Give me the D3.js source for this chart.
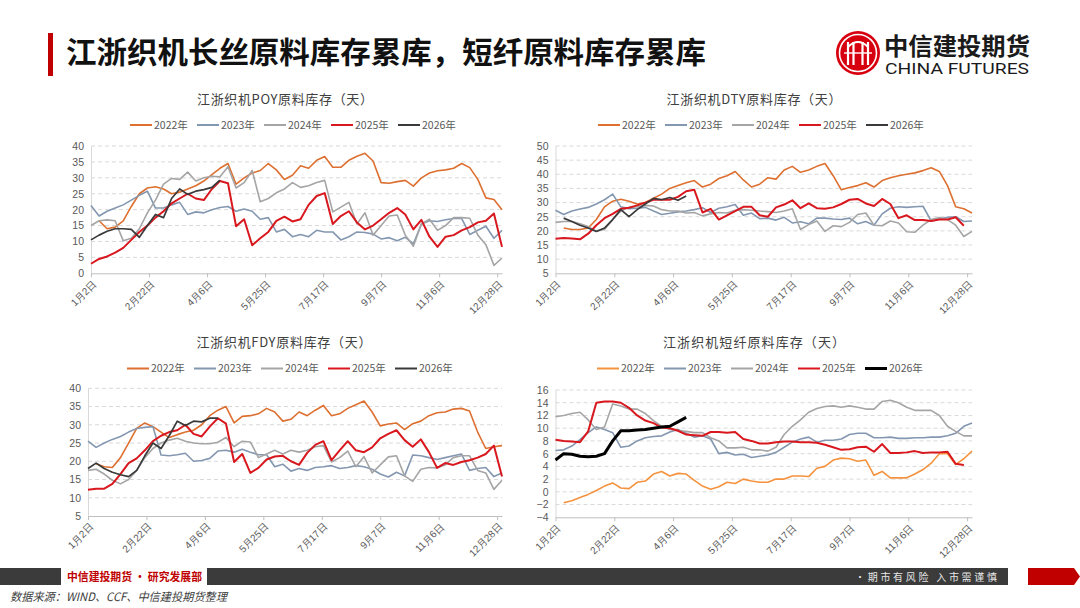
<!DOCTYPE html>
<html><head><meta charset="utf-8">
<script src="https://cdn.jsdelivr.net/npm/d3@7"></script>
<style>
html,body{margin:0;padding:0;background:#fff;}
svg{display:block;font-family:"Noto Sans CJK SC","Noto Sans",sans-serif;}
</style></head><body>
<svg id="c" width="1080" height="608"></svg>
<script>
// ---------- data ----------
const xLabels = ["1月2日","2月22日","4月6日","5月25日","7月17日","9月7日","11月6日","12月28日"];
const years = ["2022年","2023年","2024年","2025年","2026年"];
const chartTitles = ["江浙织机POY原料库存（天）","江浙织机DTY原料库存（天）","江浙织机FDY原料库存（天）","江浙织机短纤原料库存（天）"];
const mainTitle = "江浙织机长丝原料库存累库，短纤原料库存累库";

const poy2022 = [null,16.5,14,14.5,16.5,21,25,26.8,27.2,26.5,25,25.5,26.5,27.5,29,31,33,34.5,28,30,31.5,32.3,34.5,32.5,29.5,30.8,33.8,33,35.5,36.7,33.3,33.3,35.5,36.8,37.7,35.3,28.5,28.3,28.8,29.2,27.4,30,31.5,32.2,32.5,33,34.5,33.2,29.5,23.7,23.2,20];
const poy2023 = [21.3,18,19.5,20.5,21.5,23,24.5,25.8,20.5,20.5,21.5,22.3,18.5,19.3,19,20,20.7,21,19.5,20.2,19.5,17,17.5,13,13.8,11.5,12.2,11.5,13.5,13,13,10.5,11.5,13,12.8,12.3,10.8,11.2,10.2,11.3,9.3,15.5,16.5,16.3,16.8,17.2,17.2,12.2,13.5,14.8,11,13.5];
const poy2024 = [15,16.5,16.8,16.5,10.2,11,14,19,23,28,29.8,29.5,31.8,29,30,30.5,30.3,33.5,26.8,28.5,32.3,22.5,23.5,25.3,26.5,28.5,27,27.5,28.5,29.2,19.3,20.8,22.3,15.5,19,12,15,18,18.3,12,8.5,15.5,17,13.5,15,17.5,17.5,17.3,12,9,2.5,4.8];
const poy2025 = [3,4.5,5.3,6.5,8,10.5,13,15,17.5,19.5,22,23.5,25,23.5,23,26.5,29,28.3,14.8,17,8.8,11,13,16.5,17.8,16.3,17,21.5,24.3,25.2,15.5,18,19.5,16,13.8,15,17,19,20.5,18.5,13.8,16.8,11.5,8.3,11.5,12,13.5,14.5,16,16.5,18.8,8.3];
const poy2026 = [10.5,12,13.2,14,14,13.8,11.3,15,18.5,17.5,23.5,26.5,24.8,25.8,26.3,27,29.3];

const dty2022 = [null,21,20.5,20.5,21,24,28.5,30.5,31.2,30.5,29.5,30,31.5,33,35,36,37,37.8,35.5,36.5,38.5,39.5,41,38,35.5,36.5,38.8,38.3,41.5,42.8,40.7,41.5,42.8,43.8,39.5,34.5,35.3,36,37,35.5,37.8,38.8,39.5,40,40.5,41.3,42.3,41,36,28.5,27.8,26.3];
const dty2023 = [27.3,25.8,27,27.7,28.3,29.5,31,33,28.5,27.8,28,28.3,27,25.8,26.2,26.7,27,27.5,28.2,26.5,28,28.5,29.3,25.5,26.3,24.3,24.5,23.8,24.8,22.8,23.2,22.5,24.5,24.5,24.2,24,24.5,22.5,23.3,22,26,28,28.5,28.3,28.5,28.7,23.5,24.2,24.8,25,23.3,23.5];
const dty2024 = [23,23.3,23.3,22.5,21.5,20,20.5,24,27,28.3,28.5,29,28.8,27.5,27,27,26.3,26.5,25.3,26,26.5,26.3,27.3,27.5,27.3,27,26.8,26.5,27,27.8,20.5,22.2,23.5,19.8,21.8,21.5,23,25.8,26.3,22,21.8,23.5,22.8,19.7,19.5,22,24,24.7,24,22,18,19.8];
const dty2025 = [17.2,17.5,17.3,17,19,22,24.5,26,27.8,28.2,29,30,31,31,31,32,34,34.5,26.5,27.8,24,25.5,27,28.5,28.5,25.5,25,28.3,29.3,30.8,28,29.7,28,27.8,28.3,29.5,31,31.3,29.7,28.8,31.3,29.5,24.5,25.5,23.8,23.8,23.5,24,24,24.8,21.8];
const dty2026 = [null,24.5,23.3,22,21,19.8,21,24,27.5,25,27.5,29.5,31.5,31,31.8,30.8,32.3];

const fdy2022 = [null,19.3,18.5,18.3,21,25,29,30.5,29.5,28,26.5,27.3,28,28.5,30,32.5,34,35,30.5,32.3,32.5,33,34.5,33.5,31,31.5,33.5,32.5,34,35.3,32.5,33,34.5,35.5,36.5,33.5,29.7,30.2,30.5,28.7,30.3,31,32.5,33.3,33.5,34.3,34.5,33.8,28,23.5,24,24.3];
const fdy2023 = [25.5,23.8,25,26,26.8,28,29,29.3,29.5,21.7,21.5,21.8,22.2,20,20.2,20.8,22.8,23,22.5,23.3,22.5,21.8,21.8,18.5,19.2,17.3,18,17.5,18.3,18.5,18.8,18,18.3,18.8,18.5,17.8,16.5,15.7,17,16,21.7,21.5,21,20.5,21,21.5,22,17.5,18,18.3,15.8,16.8];
const fdy2024 = [17.5,17.8,16.5,14.8,13.8,15,17.5,21,23.5,25,25.8,26.3,25.5,25,24.8,24.8,25.2,26.5,24,25.5,25.3,21,22,23,22,23,22.5,23,24,24.3,19.8,21,22.8,18.5,21.3,16.8,19,21.2,21.5,16,14.5,17.8,18.3,18.2,19,21,21.5,21.5,17.5,16.8,12.3,14.8];
const fdy2025 = [12.2,12.5,12.5,13.8,16.5,19.5,20.8,23,25.5,27,28,28.5,30,27.5,26.8,29.5,31.8,30.3,19.8,22,16.8,18.2,20.5,21.3,21.5,20,19,22.3,24.5,25.5,20.3,23,25.5,23,22.5,23.8,26.3,27.5,28.5,25.8,24,26,22.5,18.2,19.5,19,19.8,20.3,21,22,24.3,15.8];
const fdy2026 = [18,19.5,18,17,16.3,15.8,17.5,21.5,25,23.5,27,31,29.8,31,30.8,31.8,31.8];

const sf2022 = [null,-1.7,-1.4,-0.9,-0.4,0.2,0.9,1.4,0.6,0.5,1.5,1.7,2.8,3.2,2.5,2.9,2.8,1.8,0.9,0.4,0.8,1.5,1.3,2,1.7,1.5,1.5,2,2,2.5,2.5,2.4,3.7,4,5,5.3,5.2,4.8,5,2.6,3.2,2.2,2.2,2.2,2.8,3.5,4.5,6,6,4.3,5.2,6.4];
const sf2023 = [6.5,6.6,7.2,8.2,9.3,10.2,9.8,9.3,7,7.2,8,8.5,8.7,8.8,9.4,9.8,9.2,8.6,8.8,8.3,6,6.2,5.8,5.9,5.4,5.6,5.8,6.2,7,7.8,8.3,8.6,7.8,8.1,8.1,8.3,9,9.2,9.2,8.5,8.5,8.6,8.4,8.4,8.5,8.5,8.6,8.6,8.8,9.2,10.3,10.8];
const sf2024 = [11.8,12,12.3,12.5,11.3,9.8,10.2,13.8,13.5,13,13,12.3,11.2,10.3,9.8,9.6,9.5,9.3,9.3,8.5,8,6.9,6.9,7,6.6,6.6,6.4,7,9,10.3,11.3,12.5,13.1,13.4,13.5,13.3,13.5,13.3,13,13,14.2,14.4,14,13.3,12.8,12.8,12.8,12,10.3,9.5,8.8,8.8];
const sf2025 = [8.2,8,7.9,7.8,9.5,14,14.2,14.2,14,13.2,12,11.2,10.8,10.1,10,9.6,9,8.9,8.8,9.4,9.4,9.3,9.4,8.3,8,7.6,7.6,7.8,7.9,7.9,7.8,7.8,7.7,7.4,7,6.6,6.7,7,7.1,6.3,7.5,6.1,6.1,6.2,6.4,6.1,6.2,6.2,6.3,4.4,4.2];
const sf2026 = [5,6,5.9,5.6,5.5,5.6,6,8,9.6,9.6,9.7,9.8,10,10.2,10.3,11,11.7];

const yTicksPOY = d3.range(0, 41, 5);
const yTicksDTY = d3.range(5, 51, 5);
const yTicksFDY = d3.range(5, 41, 5);
const yTicksSF  = d3.range(-4, 17, 2);

// ---------- styling / layout ----------
const baseColors = ["#DD7031","#8497B0","#A5A5A5","#D8181E","#3A3A3A"];
const sfColors   = ["#F5923E","#8497B0","#A5A5A5","#D8181E","#000000"];
const baseWidths = [1.6,1.6,1.6,2,1.7];
const sfWidths   = [1.6,1.6,1.6,2,3];
const N_IDX = 51;        // weekly index domain
const TICK_STEP = 7.2;   // label interval in weeks

const svg = d3.select("#c");

// header
svg.append("rect").attr("x",48).attr("y",33).attr("width",5).attr("height",43).attr("fill","#C00000");
svg.append("text").attr("x",66).attr("y",63).attr("font-size",30).attr("font-weight",700)
  .attr("fill","#111").attr("textLength",640).attr("lengthAdjust","spacingAndGlyphs").text(mainTitle);

// logo
const lg = svg.append("g").attr("transform","translate(858,53)");
lg.append("circle").attr("r",22).attr("fill","#D7000F");
lg.append("circle").attr("r",18.5).attr("fill","none").attr("stroke","#fff").attr("stroke-width",1.6);
[-10,-4.5,4.5,10].forEach(dx=>{
  lg.append("line").attr("x1",dx).attr("x2",dx).attr("y1",-11).attr("y2",12).attr("stroke","#fff").attr("stroke-width",2.2);
});
lg.append("path").attr("d","M-10,-6 Q0,-16 10,-6").attr("fill","none").attr("stroke","#fff").attr("stroke-width",2);
lg.append("line").attr("x1",-14).attr("x2",14).attr("y1",0).attr("y2",0).attr("stroke","#fff").attr("stroke-width",1.4);
svg.append("text").attr("x",884).attr("y",55).attr("font-size",24).attr("font-weight",700).attr("fill","#1a1a1a")
  .attr("textLength",146).attr("lengthAdjust","spacingAndGlyphs").text("中信建投期货");
svg.append("text").attr("x",885).attr("y",74).attr("font-size",14.5).attr("font-family","Roboto, 'Noto Sans', sans-serif")
  .attr("fill","#1a1a1a").attr("textLength",144).attr("lengthAdjust","spacingAndGlyphs").text("CHINA FUTURES");

// panels
const panels = [
  {title:chartTitles[0], series:[poy2022,poy2023,poy2024,poy2025,poy2026], yt:yTicksPOY,
   x0:91, x1:502, yTop:146, yBot:273.3, tx:285, ty:104, tlen:176, lx:130, ly:125, colors:baseColors, widths:baseWidths},
  {title:chartTitles[1], series:[dty2022,dty2023,dty2024,dty2025,dty2026], yt:yTicksDTY,
   x0:555.5, x1:972, yTop:146, yBot:273.3, tx:754, ty:104, tlen:175, lx:598, ly:125, colors:baseColors, widths:baseWidths},
  {title:chartTitles[2], series:[fdy2022,fdy2023,fdy2024,fdy2025,fdy2026], yt:yTicksFDY,
   x0:88, x1:502, yTop:388.3, yBot:516, tx:284, ty:347, tlen:175, lx:127, ly:368.5, colors:baseColors, widths:baseWidths},
  {title:chartTitles[3], series:[sf2022,sf2023,sf2024,sf2025,sf2026], yt:yTicksSF,
   x0:555.5, x1:972, yTop:390, yBot:517.3, tx:754, ty:347, tlen:182, lx:597, ly:368.5, colors:sfColors, widths:sfWidths}
];

panels.forEach(p=>{
  const g = svg.append("g");
  const x = d3.scaleLinear().domain([0,N_IDX]).range([p.x0,p.x1]);
  const y = d3.scaleLinear().domain(d3.extent(p.yt)).range([p.yBot,p.yTop]);

  g.append("text").attr("x",p.tx).attr("y",p.ty).attr("text-anchor","middle").attr("font-size",13)
    .attr("fill","#404040").attr("textLength",p.tlen).attr("lengthAdjust","spacing").text(p.title);

  years.forEach((yr,i)=>{
    const lx = p.lx + i*67;
    g.append("line").attr("x1",lx).attr("x2",lx+22).attr("y1",p.ly).attr("y2",p.ly)
      .attr("stroke",p.colors[i]).attr("stroke-width",i===4&&p.widths[4]>2?3:2);
    g.append("text").attr("x",lx+24).attr("y",p.ly+3.8).attr("font-size",10.5).attr("fill","#595959").text(yr);
  });

  g.append("g").selectAll("line").data(p.yt.slice(1)).join("line")
    .attr("x1",p.x0).attr("x2",p.x1).attr("y1",d=>y(d)).attr("y2",d=>y(d))
    .attr("stroke","#D9D9D9").attr("stroke-width",1).attr("stroke-dasharray","4,3");

  const ya = g.append("g").attr("transform",`translate(${p.x0},0)`)
    .call(d3.axisLeft(y).tickValues(p.yt).tickSize(0).tickSizeOuter(0).tickPadding(7));
  ya.select(".domain").attr("stroke","#D9D9D9");
  ya.selectAll("text").attr("font-size",10.5).attr("fill","#595959").attr("font-family","'Liberation Sans', Arial, sans-serif");

  const tickIdx = xLabels.map((_,k)=>k*TICK_STEP);
  const xa = g.append("g").attr("transform",`translate(0,${p.yBot})`)
    .call(d3.axisBottom(x).tickValues(tickIdx).tickFormat((d,i)=>xLabels[i]).tickSize(4).tickSizeOuter(0));
  xa.select(".domain").attr("stroke","#BFBFBF");
  xa.selectAll(".tick line").attr("stroke","#BFBFBF");
  xa.selectAll("text").attr("font-size",10).attr("fill","#595959")
    .attr("text-anchor","end").attr("dy","0.35em")
    .attr("transform","translate(-2,4) rotate(-45)");

  const line = d3.line().defined(d=>d!=null).x((d,i)=>x(i)).y(d=>y(d));
  p.series.forEach((s,i)=>{
    g.append("path").datum(s).attr("d",line).attr("fill","none")
      .attr("stroke",p.colors[i]).attr("stroke-width",p.widths[i]).attr("stroke-linejoin","round");
  });
});

// footer
svg.append("rect").attr("x",0).attr("y",568).attr("width",61).attr("height",17).attr("fill","#3B3B3B");
svg.append("rect").attr("x",207).attr("y",568).attr("width",801).attr("height",17).attr("fill","#3B3B3B");
svg.append("text").attr("x",67).attr("y",581).attr("font-size",11.5).attr("font-weight",700).attr("fill","#C00000")
  .attr("textLength",135).attr("lengthAdjust","spacingAndGlyphs").text("中信建投期货 • 研究发展部");
svg.append("text").attr("x",855).attr("y",580.5).attr("font-size",10).attr("fill","#E6E6E6")
  .attr("textLength",142).attr("lengthAdjust","spacing").text("•期市有风险  入市需谨慎");
svg.append("polygon").attr("points","1028,568 1074,568 1080,576.5 1074,585 1028,585").attr("fill","#C00000");
svg.append("text").attr("x",10).attr("y",601).attr("font-size",11.5).attr("font-style","italic").attr("fill","#404040")
  .attr("textLength",217).attr("lengthAdjust","spacingAndGlyphs").text("数据来源：WIND、CCF、中信建投期货整理");
</script></body></html>
